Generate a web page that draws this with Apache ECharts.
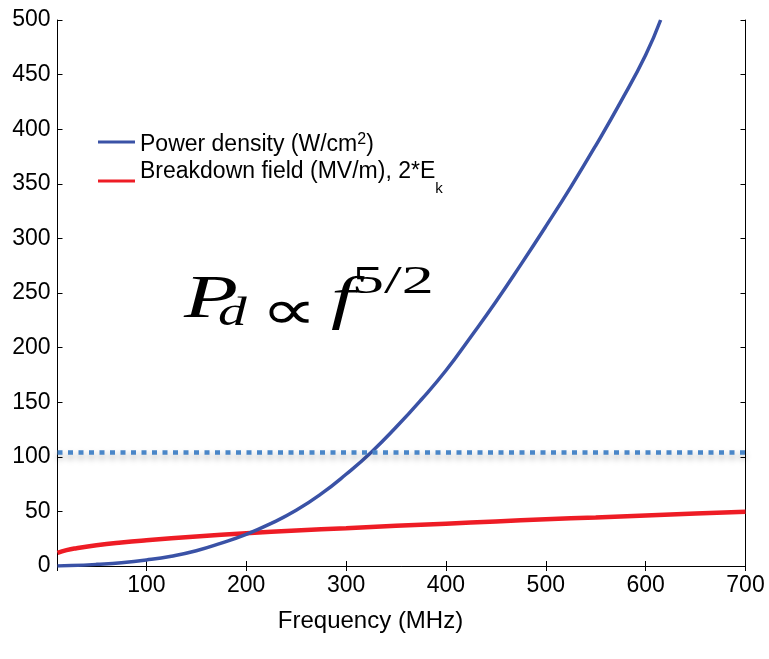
<!DOCTYPE html>
<html>
<head>
<meta charset="utf-8">
<script src="https://cdn.jsdelivr.net/npm/echarts@6/dist/echarts.min.js"></script>
<style>html,body{margin:0;padding:0;background:#fff;}#c{width:769px;height:659px;}</style>
</head>
<body>
<div id="c"></div>
<script>
// Frequency (MHz) samples and values
const freqPower = [11, 25, 50, 75, 100, 125, 150, 175, 200, 225, 250, 275, 300, 325, 350, 375, 400, 425, 450, 475, 500, 525, 550, 575, 600, 615];
const powerDensity = [0.1, 0.4, 1.5, 3, 5.5, 9, 14, 21, 29, 39, 51, 66, 84, 104, 127, 152, 179, 210, 242, 276, 311, 347, 385, 425, 468, 500];
const freqField = [11, 20, 30, 50, 75, 100, 150, 200, 250, 300, 350, 400, 450, 500, 550, 600, 650, 700];
const breakdownField = [12, 14.5, 16.3, 19, 21.5, 23.5, 27, 30, 32.5, 34.6, 36.8, 38.8, 40.8, 42.8, 44.5, 46.3, 48, 49.7];
const thresholdLevel = 104;
const xRange = [11, 700];
const yRange = [0, 500];
const yTickStep = 50;
const seriesNames = ['Power density (W/cm2)', 'Breakdown field (MV/m), 2*Ek'];
const legendRich = {
  'Power density (W/cm2)': '{a|Power density (W/cm}{sup|2}{a|)}',
  'Breakdown field (MV/m), 2*Ek': '{b|Breakdown field (MV/m), 2*E}{sub|k}'
};
const xAxisTitle = 'Frequency (MHz)';

const chart = echarts.init(document.getElementById('c'), null, {renderer: 'canvas'});
const sans = 'Liberation Sans, Arial, Helvetica, sans-serif';
const serif = 'Liberation Serif, Times New Roman, serif';

function zip(xs, ys) { return xs.map((x, i) => [x, ys[i]]); }

const tickCommon = {show: true, inside: true, length: 5, lineStyle: {color: '#000', width: 1}};
const lineCommon = {show: true, lineStyle: {color: '#000', width: 1}};

chart.setOption({
  animation: false,
  backgroundColor: '#fff',
  grid: {left: 57.5, right: 23.5, top: 20, bottom: 93, containLabel: false},
  legend: {
    orient: 'vertical',
    left: 98,
    top: 127.5,
    padding: 0,
    icon: 'rect',
    itemWidth: 37,
    itemHeight: 3,
    itemGap: 4,
    data: seriesNames,
    formatter: name => legendRich[name],
    textStyle: {
      fontFamily: sans, fontSize: 23, color: '#000',
      rich: {
        a: {fontFamily: sans, fontSize: 23, lineHeight: 29, verticalAlign: 'bottom', color: '#000'},
        b: {fontFamily: sans, fontSize: 23, lineHeight: 23, verticalAlign: 'top', color: '#000'},
        sup: {fontFamily: sans, fontSize: 16, lineHeight: 16, verticalAlign: 'top', padding: [4.5, 0, 0, 0], color: '#000'},
        sub: {fontFamily: sans, fontSize: 15, lineHeight: 41, verticalAlign: 'top', padding: [20.5, 0, 0, 0], color: '#000'}
      }
    }
  },
  xAxis: [{
    type: 'value', min: xRange[0], max: xRange[1], position: 'bottom',
    name: xAxisTitle, nameLocation: 'middle', nameGap: 43,
    nameTextStyle: {fontFamily: sans, fontSize: 24, color: '#000', padding: [0, 62, 0, 0]},
    axisLine: lineCommon, axisTick: tickCommon, splitLine: {show: false},
    axisLabel: {fontFamily: sans, fontSize: 23, color: '#000', margin: 8, showMinLabel: false,
      formatter: v => (v % 100 === 0 ? String(v) : '')}
  }, {
    type: 'value', min: xRange[0], max: xRange[1], position: 'top',
    axisLine: lineCommon, axisTick: tickCommon, splitLine: {show: false}, axisLabel: {show: false}
  }],
  yAxis: [{
    type: 'value', min: yRange[0], max: yRange[1], interval: yTickStep, position: 'left',
    axisLine: lineCommon, axisTick: tickCommon, splitLine: {show: false},
    axisLabel: {fontFamily: sans, fontSize: 23, color: '#000', margin: 7}
  }, {
    type: 'value', min: yRange[0], max: yRange[1], interval: yTickStep, position: 'right',
    axisLine: lineCommon, axisTick: tickCommon, splitLine: {show: false}, axisLabel: {show: false}
  }],
  series: [{
    name: seriesNames[0], type: 'line', smooth: true, symbol: 'none',
    xAxisIndex: 0, yAxisIndex: 0,
    data: zip(freqPower, powerDensity),
    lineStyle: {color: '#3a52a6', width: 3.5},
    itemStyle: {color: '#3a52a6'},
    z: 3,
    markLine: {
      silent: true, symbol: 'none', label: {show: false},
      lineStyle: {type: [5, 5.5], width: 4.5, color: '#4a86c8', shadowBlur: 6, shadowColor: 'rgba(0,0,0,0.35)', shadowOffsetY: 4},
      data: [[{coord: [xRange[0], thresholdLevel]}, {coord: [xRange[1], thresholdLevel]}]]
    }
  }, {
    name: seriesNames[1], type: 'line', smooth: true, symbol: 'none',
    xAxisIndex: 0, yAxisIndex: 0,
    data: zip(freqField, breakdownField),
    lineStyle: {color: '#ee1c25', width: 4.5},
    itemStyle: {color: '#ee1c25'},
    z: 2
  }],
  graphic: [
    {type: 'text', x: 184, y: 270, scaleX: 1.45, style: {text: 'P', font: 'italic 61px ' + serif, fill: '#000', align: 'left', verticalAlign: 'top'}},
    {type: 'text', x: 218, y: 294, scaleX: 1.4, style: {text: 'd', font: 'italic 41px ' + serif, fill: '#000', align: 'left', verticalAlign: 'top'}},
    {type: 'text', x: 261, y: 286, scaleX: 1.4, style: {text: '\u221D', font: '56px ' + serif, fill: '#000', align: 'left', verticalAlign: 'top'}},
    {type: 'text', x: 331, y: 272, scaleX: 1.45, style: {text: 'f', font: 'italic 59px ' + serif, fill: '#000', align: 'left', verticalAlign: 'top'}},
    {type: 'text', x: 352, y: 262, scaleX: 1.6, style: {text: '5/2', font: '40px ' + serif, fill: '#000', align: 'left', verticalAlign: 'top'}}
  ]
});
</script>
</body>
</html>
